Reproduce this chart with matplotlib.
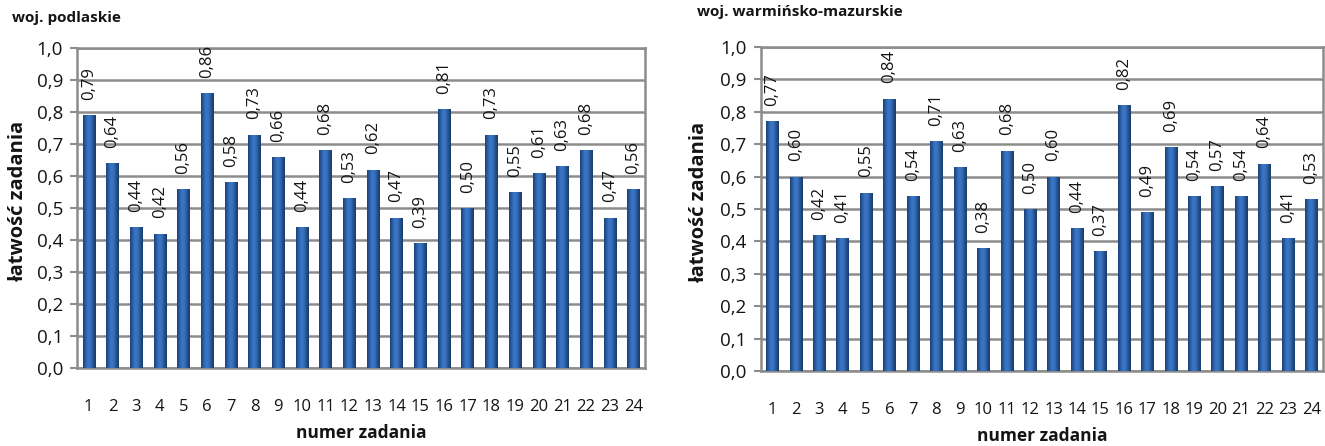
# %% Imports:
import matplotlib.pyplot as plt
import numpy as np
from matplotlib.colors import LinearSegmentedColormap

# Data:
zadania = [str(i) for i in range(1, 25)]
podlaskie = [0.79, 0.64, 0.44, 0.42, 0.56, 0.86, 0.58, 0.73, 0.66, 0.44, 0.68, 0.53,
             0.62, 0.47, 0.39, 0.81, 0.50, 0.73, 0.55, 0.61, 0.63, 0.68, 0.47, 0.56]
warminsko = [0.77, 0.60, 0.42, 0.41, 0.55, 0.84, 0.54, 0.71, 0.63, 0.38, 0.68, 0.50,
             0.60, 0.44, 0.37, 0.82, 0.49, 0.69, 0.54, 0.57, 0.54, 0.64, 0.41, 0.53]
yticks = np.arange(0, 11) / 10

# %% Plotting:
plt.rcParams['font.family'] = ['Open Sans', 'DejaVu Sans']
gray = '#8c8c8c'
txt = '#141414'
cmap = LinearSegmentedColormap.from_list(
    'cyl', ['#1c3f75', '#2c5fa8', '#3b78c6', '#3570bd', '#25528f', '#1a3a6a'])
grad = np.linspace(0, 1, 64)[None, :]

fig = plt.figure(figsize=(13.25, 4.46), dpi=100)
ax1 = fig.add_axes([0.058, 0.175, 0.429, 0.717])
ax2 = fig.add_axes([0.574, 0.168, 0.4245, 0.727])


def draw(ax, vals, title, tx, ty, ylab_x):
    x = np.arange(1, len(vals) + 1)
    bars = ax.bar(x, vals, width=0.52, color='#2f65ad', edgecolor='none', zorder=3)
    for b in bars:
        x0, w, h = b.get_x(), b.get_width(), b.get_height()
        im = ax.imshow(grad, extent=[x0, x0 + w, 0, h], aspect='auto', cmap=cmap,
                       interpolation='bilinear', zorder=3.5)
        im.set_clip_path(b)
    for xi, v in zip(x, vals):
        ax.annotate(f'{v:.2f}'.replace('.', ','), (xi, v), xytext=(0, 11),
                    textcoords='offset points', rotation=90, ha='center', va='bottom',
                    fontsize=12, color=txt, zorder=4)
    ax.set_xlim(0.5, len(vals) + 0.5)
    ax.set_ylim(0, 1.0)
    ax.set_xticks(x)
    ax.set_xticklabels(zadania, fontsize=12, color=txt)
    ax.set_yticks(yticks)
    ax.set_yticklabels([f'{t:.1f}'.replace('.', ',') for t in yticks], fontsize=13.5,
                       color=txt)
    ax.tick_params(axis='x', length=0, pad=22)
    ax.tick_params(axis='y', length=5, color=gray, width=1.5, pad=5)
    ax.grid(axis='y', color=gray, linewidth=1.8, zorder=1)
    for s in ax.spines.values():
        s.set_color(gray)
        s.set_linewidth(1.8)
    ax.set_ylabel('łatwość zadania', fontsize=14.5, fontweight='bold', color=txt)
    ax.yaxis.label.set_va('center')
    ax.yaxis.set_label_coords(ylab_x, 0.52)
    ax.set_xlabel('numer zadania', fontsize=12.5, fontweight='bold', labelpad=7, color=txt)
    fig.text(tx, ty, title, fontsize=11, fontweight='bold', ha='left', va='center', color=txt)


draw(ax1, podlaskie, 'woj. podlaskie', 12 / 1325, 1 - 18 / 446, -0.104)
draw(ax2, warminsko, 'woj. warmińsko-mazurskie', 697 / 1325, 1 - 12 / 446, -0.109)

plt.savefig('out.png', dpi=100)
